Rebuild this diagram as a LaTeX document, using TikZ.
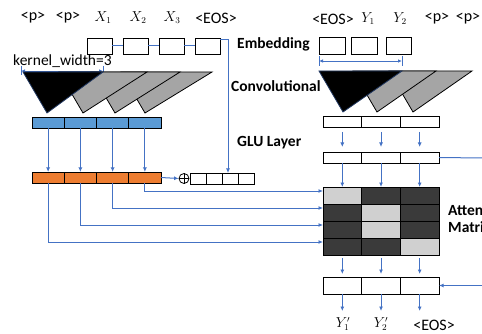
\documentclass[tikz,border=0pt]{standalone}
\usepackage{fontspec}
\setmainfont{Carlito}
\usetikzlibrary{arrows.meta,calc}
\definecolor{lineblue}{HTML}{4472C4}
\definecolor{barblue}{HTML}{5B9BD5}
\definecolor{barorange}{HTML}{ED7D31}
\definecolor{triggray}{HTML}{A5A5A5}
\definecolor{cdark}{HTML}{3A3A3A}
\definecolor{clight}{HTML}{D0D0D0}
\tikzset{
  conn/.style={draw=lineblue, line width=1pt},
  arr/.style={conn, -{Latex[length=4.5pt,width=4pt]}},
  dblarr/.style={conn, line width=0.8pt, {Latex[length=4pt,width=3.5pt]}-{Latex[length=4pt,width=3.5pt]}},
  cell/.style={draw=black, line width=0.8pt, inner sep=0pt, outer sep=0pt, anchor=north west},
  lbl/.style={font=\fontsize{16}{18}\selectfont, inner sep=0pt},
  mlbl/.style={font=\fontsize{13.5}{16}\selectfont, inner sep=0pt},
  blbl/.style={font=\fontsize{15.5}{17}\selectfont\bfseries, inner sep=0pt, anchor=west},
  tri/.style={draw=black, line width=0.8pt, fill=triggray, line join=miter},
}
\begin{document}
\begin{tikzpicture}[x=1pt,y=-1pt]
\useasboundingbox (0,0) rectangle (482,334);
\clip (0,0) rectangle (482,334);

% ---------------- left encoder ----------------
\node[lbl] (lp1) at (33,18) {<p>};
\node[lbl] (lp2) at (68,18) {<p>};
\node[mlbl] (lx1) at (103,18) {$X_1$};
\node[mlbl] (lx2) at (138,18) {$X_2$};
\node[mlbl] (lx3) at (172,18) {$X_3$};
\node[lbl] (leos) at (216,18) {<EOS>};

\foreach \i/\x in {1/87,2/123,3/159,4/195}
  \node[cell, minimum width=25pt, minimum height=16pt] (e\i) at (\x,38) {};
\draw[conn] (e1.east) -- (e2.west);
\draw[conn] (e2.east) -- (e3.west);
\draw[conn] (e3.east) -- (e4.west);

\node[lbl, font=\fontsize{15.5}{17}\selectfont, anchor=west] (kw) at (13,61) {kernel\_width=3};
\coordinate (kl) at (21,71);
\coordinate (kr) at (103,71);
\draw[conn, line width=0.8pt] ([yshift=5pt]kl) -- ([yshift=-4pt]kl);
\draw[conn, line width=0.8pt] ([yshift=5pt]kr) -- ([yshift=-4pt]kr);
\draw[dblarr] (kl) -- (kr);

\draw[tri] (121,72) -- (212,72) -- (145,113) -- cycle;
\draw[tri] (91,72) -- (180,72) -- (115,113) -- cycle;
\draw[tri] (59,72) -- (147,72) -- (83,113) -- cycle;
\draw[draw=lineblue!50!black, line width=0.8pt, fill=black] (23,72) -- (103,72) -- (47,113) -- cycle;

\foreach \i/\x in {1/32,2/64.25,3/96.5,4/128.75}{
  \node[cell, fill=barblue, minimum width=32.25pt, minimum height=11pt] (b\i) at (\x,117) {};
  \node[cell, fill=barorange, minimum width=32.25pt, minimum height=11pt] (o\i) at (\x,172) {};
}
\foreach \i in {1,2,3,4}
  \draw[arr] (b\i.south) -- (o\i.north);

\foreach \i/\x in {1/190,2/206,3/222,4/238}
  \node[cell, minimum width=16pt, minimum height=11pt] (s\i) at (\x,173) {};
\node[draw=black, line width=0.8pt, circle, inner sep=0pt, minimum size=10pt] (plus) at (184,178.5) {};
\draw[line width=0.8pt] (plus.north) -- (plus.south);
\draw[line width=0.8pt] (plus.west) -- (plus.east);
\draw[arr] (o4.east) -- (plus.west);

\coordinate (ecorner) at (228,40);
\draw[arr] ([yshift=6pt]e4.east) -- (ecorner) -- (ecorner |- s3.north);

% ---------------- labels in the middle ----------------
\node[blbl] (lemb) at (237,44) {Embedding};
\node[blbl] (lconv) at (231,86) {Convolutional};
\node[blbl] (lglu) at (237,143) {GLU Layer};
\node[blbl] (latt1) at (448,210) {Attention};
\node[blbl] (latt2) at (448,227) {Matrix};

% ---------------- right decoder ----------------
\node[lbl] (reos) at (333,19) {<EOS>};
\node[mlbl] (ry1) at (368,19) {$Y_1$};
\node[mlbl] (ry2) at (400,19) {$Y_2$};
\node[lbl] (rp1) at (437,19) {<p>};
\node[lbl] (rp2) at (468,19) {<p>};

\node[cell, minimum width=26pt, minimum height=17pt] (r1) at (319,37) {};
\node[cell, minimum width=26pt, minimum height=17pt] (r2) at (351,37) {};
\node[cell, minimum width=25pt, minimum height=17pt] (r3) at (386,37) {};

\coordinate (rkl) at (319,61);
\coordinate (rkr) at (402,61);
\draw[conn, line width=0.8pt] ([yshift=5pt]rkl) -- ([yshift=-5pt]rkl);
\draw[conn, line width=0.8pt] ([yshift=5pt]rkr) -- ([yshift=-5pt]rkr);
\draw[dblarr] (rkl) -- (rkr);

\draw[tri] (389,71) -- (472,71) -- (413,112) -- cycle;
\draw[tri] (353,71) -- (436,71) -- (377,112) -- cycle;
\draw[draw=lineblue!50!black, line width=0.8pt, fill=black] (319,71) -- (402,71) -- (343,112) -- cycle;

\foreach \i/\x in {1/323,2/361.67,3/400.33}{
  \node[cell, minimum width=38.67pt, minimum height=11pt] (g\i) at (\x,116) {};
  \node[cell, minimum width=38.67pt, minimum height=11pt] (h\i) at (\x,152) {};
  \node[cell, minimum width=38.67pt, minimum height=17pt] (q\i) at (\x,277) {};
}
\foreach \i in {1,2,3}
  \draw[arr] ([yshift=-5pt]g\i.south) -- ([yshift=5pt]h\i.north);

\foreach \r/\y/\ca/\cb/\cc in {1/187/clight/cdark/cdark, 2/204/cdark/clight/cdark, 3/221/cdark/clight/cdark, 4/238/cdark/cdark/clight}{
  \node[cell, fill=\ca, minimum width=38.67pt, minimum height=17pt] (m\r1) at (323,\y) {};
  \node[cell, fill=\cb, minimum width=38.67pt, minimum height=17pt] (m\r2) at (361.67,\y) {};
  \node[cell, fill=\cc, minimum width=38.67pt, minimum height=17pt] (m\r3) at (400.33,\y) {};
}
\foreach \i in {1,2,3}{
  \draw[arr] (h\i.south) -- (m1\i.north);
  \draw[arr] ([yshift=-3pt]m4\i.south) -- ([yshift=3pt]q\i.north);
}

\draw[arr] (o4.south) |- ([yshift=4.5pt]m11.west);
\draw[arr] (o3.south) |- ([yshift=4.5pt]m21.west);
\draw[arr] (o2.south) |- ([yshift=4.5pt]m31.west);
\draw[arr] (o1.south) |- ([yshift=4.5pt]m41.west);

\coordinate (hout) at (482,158);
\draw[conn] (h3.east) -- (hout);
\coordinate (qin) at (482,285.5);
\draw[arr] (qin) -- (q3.east);

\node[mlbl] (oy1) at (343,324) {$Y_1'$};
\node[mlbl] (oy2) at (381,324) {$Y_2'$};
\node[lbl] (oeos) at (434,325) {<EOS>};
\foreach \i in {1,2,3}
  \draw[arr] (q\i.south) -- ([yshift=-17pt]q\i.south);

\end{tikzpicture}
\end{document}
